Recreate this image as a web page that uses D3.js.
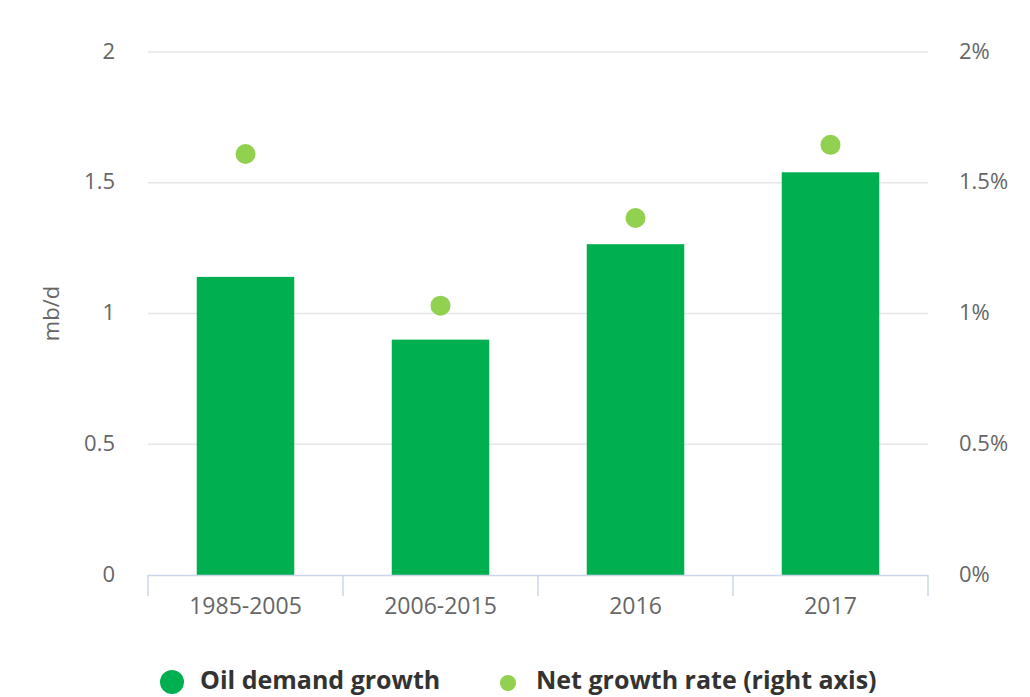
<!DOCTYPE html>
<html><head><meta charset="utf-8">
<script src="https://cdn.jsdelivr.net/npm/d3@7"></script>
<style>body{margin:0;background:#fff;}svg{display:block;font-family:"Open Sans",sans-serif;}</style>
</head><body>
<script>
const categories = ["1985-2005","2006-2015","2016","2017"];
const demandGrowth = [1.14, 0.90, 1.265, 1.54];
const netGrowthRate = [1.61, 1.03, 1.365, 1.645];
const leftTicks = [0, 0.5, 1, 1.5, 2];
const rightTicks = [0, 0.5, 1, 1.5, 2];
const seriesNames = ["Oil demand growth", "Net growth rate (right axis)"];

const W = 1030, H = 697;
const m = {left:148, right:1030-928, top:52, bottom:697-575};
const svg = d3.select("body").append("svg").attr("width",W).attr("height",H);
const x = d3.scaleBand().domain(categories).range([m.left, W-m.right]).paddingInner(0.5).paddingOuter(0.25);
const xb = d3.scaleBand().domain(categories).range([m.left, W-m.right]);
const y = d3.scaleLinear().domain([0,2]).range([H-m.bottom, m.top]);
const y2 = d3.scaleLinear().domain([0,2]).range([H-m.bottom, m.top]);
const fs = "22px";

// grid
svg.append("g").selectAll("line").data(leftTicks.filter(d=>d>0)).join("line")
  .attr("x1",m.left).attr("x2",W-m.right).attr("y1",d=>y(d)).attr("y2",d=>y(d))
  .attr("stroke","#e6e6e6").attr("stroke-width",1.5);

// left labels
svg.append("g").selectAll("text").data(leftTicks).join("text")
  .attr("x",115).attr("y",d=>y(d)).attr("dy","0.3em").attr("text-anchor","end")
  .attr("fill","#666").style("font-size",fs).text(d=>d);
// right labels
svg.append("g").selectAll("text").data(rightTicks).join("text")
  .attr("x",959).attr("y",d=>y2(d)).attr("dy","0.3em").attr("text-anchor","start")
  .attr("fill","#666").style("font-size",fs).text(d=>d+"%");

svg.append("text").attr("transform",`translate(59,${(y(0)+y(2))/2}) rotate(-90)`)
  .attr("text-anchor","middle").attr("fill","#666").style("font-size",fs).text("mb/d");

// bars
svg.append("g").selectAll("rect").data(categories).join("rect")
  .attr("x",d=>x(d)).attr("width",x.bandwidth())
  .attr("y",(d,i)=>y(demandGrowth[i])).attr("height",(d,i)=>y(0)-y(demandGrowth[i]))
  .attr("fill","#00b050");

// x axis
const xa = svg.append("g");
xa.append("line").attr("x1",m.left).attr("x2",W-m.right).attr("y1",y(0)+0.5).attr("y2",y(0)+0.5)
  .attr("stroke","#ccd6eb").attr("stroke-width",1.5);
const bounds = categories.map(d=>xb(d)).concat([W-m.right]);
xa.selectAll("line.t").data(bounds).join("line").attr("class","t")
  .attr("x1",d=>d).attr("x2",d=>d).attr("y1",y(0)).attr("y2",y(0)+21)
  .attr("stroke","#ccd6eb").attr("stroke-width",1.5);
xa.selectAll("text").data(categories).join("text")
  .attr("x",d=>xb(d)+xb.bandwidth()/2).attr("y",606).attr("dy","0.35em").attr("text-anchor","middle")
  .attr("fill","#666").style("font-size","23px").text(d=>d);

// dots
svg.append("g").selectAll("circle").data(categories).join("circle")
  .attr("cx",d=>x(d)+x.bandwidth()/2).attr("cy",(d,i)=>y2(netGrowthRate[i])).attr("r",10)
  .attr("fill","#92d050");

// legend
const lg = svg.append("g");
lg.append("circle").attr("cx",172).attr("cy",682).attr("r",12).attr("fill","#00b050");
lg.append("text").attr("x",200).attr("y",680).attr("dy","0.35em").attr("fill","#333")
  .style("font-size","25px").style("font-weight","bold").text(seriesNames[0]);
lg.append("circle").attr("cx",508).attr("cy",683).attr("r",8).attr("fill","#92d050");
lg.append("text").attr("x",536).attr("y",680).attr("dy","0.35em").attr("fill","#333")
  .style("font-size","25px").style("font-weight","bold").text(seriesNames[1]);
</script>
</body></html>
